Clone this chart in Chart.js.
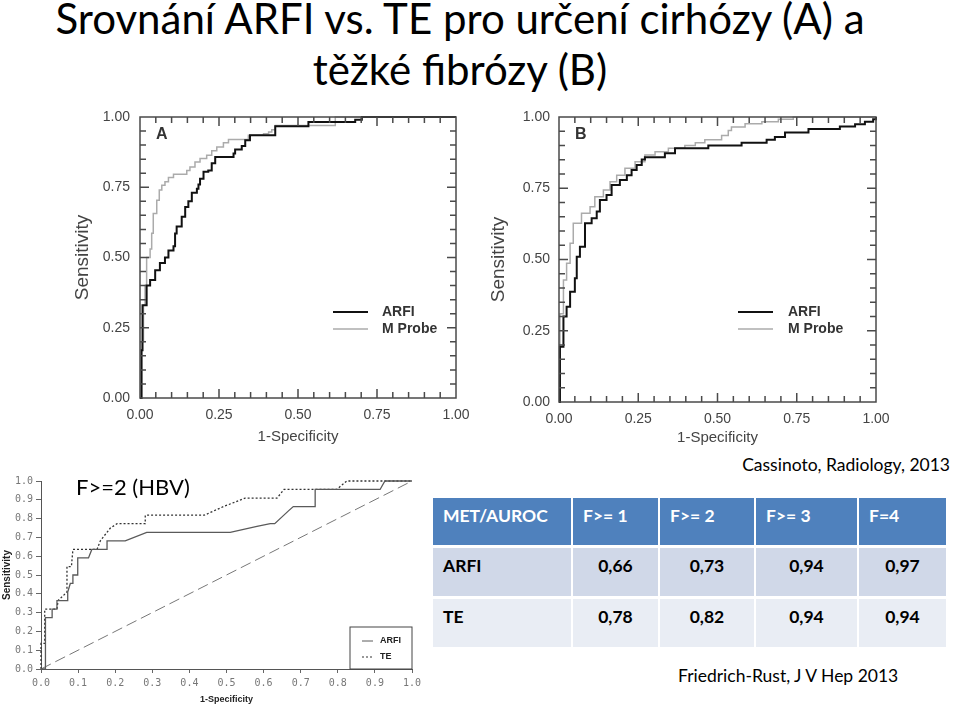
<!DOCTYPE html>
<html>
<head>
<meta charset="utf-8">
<script src="https://cdn.jsdelivr.net/npm/chart.js@4.4.1/dist/chart.umd.min.js"></script>
<style>
  body { margin: 0; background: #fff; width: 959px; height: 708px; position: relative; overflow: hidden; font-family: Lato, "Open Sans", sans-serif; }
  .box { position: absolute; }
  .title { position: absolute; left: 0; top: -7px; width: 920px; text-align: center; font-size: 42px; line-height: 51px; color: #000; white-space: nowrap; }
  .note { position: absolute; font-size: 17.5px; line-height: 20px; color: #000; white-space: nowrap; }
  .grid { position: absolute; left: 433px; top: 498px; display: grid;
          grid-template-columns: 138px 85px 94px 101px 87px; grid-template-rows: 47px 48px 48px;
          column-gap: 2px; row-gap: 3px; }
  .grid div { font-weight: bold; font-size: 17.5px; line-height: 22px; padding-top: 7px; box-sizing: border-box; }
  .grid .h { background: #4f81bd; color: #fff; padding-left: 10px; }
  .grid .r0 { background: #d0d8e8; }
  .grid .r1 { background: #e9edf4; }
  .grid .lab { padding-left: 10px; }
  .grid .num { text-align: center; }
</style>
</head>
<body>
<div class="title">Srovnání ARFI vs. TE pro určení cirhózy (A) a<br>těžké fibrózy (B)</div>

<div class="box" style="left:60px;top:100px;width:410px;height:350px"><canvas id="chartA"></canvas></div>
<div class="box" style="left:480px;top:100px;width:410px;height:350px"><canvas id="chartB"></canvas></div>
<div class="box" style="left:0px;top:470px;width:430px;height:238px"><canvas id="chartC"></canvas></div>

<div class="note" style="left:76px;top:476px;font-size:22px;line-height:22px">F&gt;=2 (HBV)</div>
<div class="note" style="right:9px;top:455px">Cassinoto, Radiology, 2013</div>
<div class="note" style="left:678px;top:666px">Friedrich-Rust, J V Hep 2013</div>
<div class="grid" id="auroc"></div>

<script>
// ---- data ----
const abTicks = [0, 0.25, 0.5, 0.75, 1];
const abTickLabels = ['0.00', '0.25', '0.50', '0.75', '1.00'];
const cTicks = [0, 0.1, 0.2, 0.3, 0.4, 0.5, 0.6, 0.7, 0.8, 0.9, 1];
const cTickLabels = ['0.0', '0.1', '0.2', '0.3', '0.4', '0.5', '0.6', '0.7', '0.8', '0.9', '1.0'];

// A: cirrhosis (Cassinoto)
const aArfiX = [0, 0.005, 0.008, 0.021, 0.032, 0.048, 0.063, 0.079, 0.090, 0.106, 0.111, 0.116, 0.132, 0.143, 0.153, 0.164, 0.180, 0.185, 0.190, 0.201, 0.216, 0.227, 0.238, 0.296, 0.301, 0.322, 0.333, 0.348, 0.428, 0.533, 0.681, 0.702, 1];
const aArfiY = [0, 0.17, 0.33, 0.40, 0.42, 0.455, 0.48, 0.50, 0.525, 0.54, 0.585, 0.61, 0.645, 0.68, 0.70, 0.73, 0.745, 0.76, 0.78, 0.805, 0.81, 0.835, 0.858, 0.87, 0.884, 0.897, 0.917, 0.935, 0.967, 0.982, 0.99, 1, 1];
const aProbeX = [0, 0.003, 0.011, 0.016, 0.021, 0.032, 0.037, 0.042, 0.053, 0.061, 0.069, 0.079, 0.090, 0.106, 0.148, 0.158, 0.174, 0.190, 0.211, 0.227, 0.243, 0.264, 0.280, 0.343, 0.391, 0.407, 0.417, 0.428, 0.618, 1];
const aProbeY = [0, 0.20, 0.33, 0.40, 0.50, 0.53, 0.586, 0.657, 0.704, 0.74, 0.757, 0.77, 0.785, 0.796, 0.81, 0.822, 0.84, 0.852, 0.864, 0.88, 0.893, 0.908, 0.92, 0.935, 0.94, 0.947, 0.955, 0.97, 1, 1];

// B: severe fibrosis (Cassinoto)
const bArfiX = [0, 0.003, 0.014, 0.024, 0.035, 0.050, 0.056, 0.066, 0.082, 0.103, 0.119, 0.129, 0.150, 0.166, 0.192, 0.214, 0.229, 0.245, 0.261, 0.271, 0.334, 0.366, 0.471, 0.576, 0.655, 0.681, 0.713, 0.787, 0.886, 0.934, 0.965, 0.991, 1];
const bArfiY = [0, 0.194, 0.30, 0.334, 0.387, 0.434, 0.51, 0.545, 0.627, 0.645, 0.668, 0.709, 0.726, 0.761, 0.779, 0.796, 0.814, 0.832, 0.851, 0.859, 0.873, 0.89, 0.90, 0.91, 0.92, 0.93, 0.946, 0.958, 0.967, 0.975, 0.983, 0.992, 1];
const bProbeX = [0, 0.003, 0.014, 0.024, 0.035, 0.045, 0.071, 0.098, 0.113, 0.140, 0.161, 0.182, 0.208, 0.240, 0.271, 0.303, 0.345, 0.397, 0.430, 0.460, 0.513, 0.534, 0.544, 0.587, 0.640, 0.692, 0.739, 1];
const bProbeY = [0, 0.31, 0.428, 0.487, 0.557, 0.627, 0.662, 0.685, 0.72, 0.744, 0.773, 0.796, 0.82, 0.843, 0.867, 0.878, 0.89, 0.90, 0.91, 0.92, 0.935, 0.953, 0.965, 0.976, 0.983, 0.992, 1, 1];

// C: F>=2 HBV (Friedrich-Rust)
const cArfiX = [0, 0.012, 0.012, 0.030, 0.030, 0.043, 0.043, 0.072, 0.072, 0.079, 0.086, 0.086, 0.099, 0.099, 0.128, 0.137, 0.178, 0.178, 0.227, 0.285, 0.510, 0.582, 0.618, 0.630, 0.667, 0.680, 0.739, 0.739, 0.914, 0.927, 1];
const cArfiY = [0, 0, 0.273, 0.273, 0.318, 0.318, 0.364, 0.364, 0.409, 0.455, 0.455, 0.5, 0.5, 0.591, 0.591, 0.636, 0.636, 0.682, 0.682, 0.727, 0.727, 0.759, 0.773, 0.773, 0.841, 0.864, 0.864, 0.955, 0.955, 1, 1];
const cTeX = [0, 0, 0.010, 0.010, 0.043, 0.046, 0.070, 0.070, 0.082, 0.086, 0.151, 0.160, 0.187, 0.205, 0.281, 0.281, 0.440, 0.492, 0.550, 0.636, 0.655, 0.797, 0.824, 1];
const cTeY = [0, 0.136, 0.136, 0.318, 0.318, 0.364, 0.409, 0.545, 0.545, 0.636, 0.636, 0.682, 0.75, 0.773, 0.773, 0.818, 0.818, 0.864, 0.909, 0.909, 0.955, 0.955, 1, 1];
const cRefX = [0, 1];
const cRefY = [0, 1];

const tableHead = ['MET/AUROC', 'F>= 1', 'F>= 2', 'F>= 3', 'F=4'];
const tableRows = [
    ['ARFI', '0,66', '0,73', '0,94', '0,97'],
    ['TE', '0,78', '0,82', '0,94', '0,94']
];

// ---- helpers ----
const pts = (xs, ys) => xs.map((x, i) => ({ x: x, y: ys[i] }));

Chart.defaults.font.family = '"Liberation Sans", Arial, sans-serif';
Chart.defaults.animation = false;

// frame + inward ticks + letter + legend for the A/B panels
const rocFrame = {
    id: 'rocFrame',
    afterDraw(chart, args, opts) {
        const ctx = chart.ctx, a = chart.chartArea;
        const sx = chart.scales.x, sy = chart.scales.y;
        ctx.save();
        ctx.strokeStyle = '#4a4a4a';
        ctx.lineWidth = 1.5;
        ctx.strokeRect(a.left, a.top, a.right - a.left, a.bottom - a.top);
        ctx.beginPath();
        for (let i = 1; i < 20; i++) {
            const len = i % 5 === 0 ? 9 : 6;
            const px = sx.getPixelForValue(i / 20), py = sy.getPixelForValue(i / 20);
            ctx.moveTo(px, a.bottom); ctx.lineTo(px, a.bottom - len);
            ctx.moveTo(px, a.top); ctx.lineTo(px, a.top + len);
            ctx.moveTo(a.left, py); ctx.lineTo(a.left + len, py);
            ctx.moveTo(a.right, py); ctx.lineTo(a.right - len, py);
        }
        ctx.stroke();

        ctx.fillStyle = '#333';
        ctx.font = 'bold 16px "Liberation Sans", Arial, sans-serif';
        ctx.textBaseline = 'alphabetic';
        ctx.fillText(opts.letter, a.left + 16, a.top + 22);

        ctx.font = 'bold 14px "Liberation Sans", Arial, sans-serif';
        ctx.textBaseline = 'middle';
        chart.data.datasets.forEach((ds, i) => {
            const y = a.top + opts.legendTop + i * 17;
            ctx.strokeStyle = ds.borderColor;
            ctx.lineWidth = ds.borderWidth;
            ctx.beginPath();
            ctx.moveTo(a.right + opts.legendLine, y);
            ctx.lineTo(a.right + opts.legendLine + 35, y);
            ctx.stroke();
            ctx.fillStyle = '#333';
            ctx.fillText(ds.label, a.right + opts.legendText, y);
        });
        ctx.restore();
    }
};

// boxed legend for the HBV panel
const boxLegend = {
    id: 'boxLegend',
    afterDraw(chart) {
        const ctx = chart.ctx, a = chart.chartArea;
        ctx.save();
        ctx.strokeStyle = '#444';
        ctx.lineWidth = 1;
        ctx.strokeRect(a.right - 62, a.bottom - 42, 62, 42);
        ctx.font = 'bold 9px "Liberation Sans", Arial, sans-serif';
        ctx.textBaseline = 'middle';
        chart.data.datasets.slice(0, 2).forEach((ds, i) => {
            const y = a.bottom - 28 + i * 16;
            ctx.strokeStyle = ds.borderColor;
            ctx.lineWidth = 1;
            ctx.setLineDash(ds.borderDash || []);
            ctx.beginPath();
            ctx.moveTo(a.right - 50, y);
            ctx.lineTo(a.right - 39, y);
            ctx.stroke();
            ctx.fillStyle = '#222';
            ctx.fillText(ds.label, a.right - 32, y);
        });
        ctx.restore();
    }
};

function fixedAxis(size, horizontal) {
    return function (scale) {
        if (horizontal) scale.height = size; else scale.width = size;
        scale.paddingLeft = scale.paddingRight = scale.paddingTop = scale.paddingBottom = 0;
    };
}

function rocChart(id, letter, arfi, probe, geo) {
    return new Chart(document.getElementById(id), {
        type: 'line',
        data: {
            datasets: [{
                label: 'ARFI',
                data: arfi,
                borderColor: '#111',
                borderWidth: 2,
                stepped: 'before',
                pointRadius: 0,
                clip: 4,
                order: 1
            }, {
                label: 'M Probe',
                data: probe,
                borderColor: '#ababab',
                borderWidth: 1.5,
                stepped: 'before',
                pointRadius: 0,
                clip: 4,
                order: 2
            }]
        },
        options: {
            responsive: true,
            maintainAspectRatio: false,
            layout: { padding: { top: 17, right: 14, left: 0, bottom: 0 } },
            plugins: {
                legend: { display: false },
                tooltip: { enabled: false },
                rocFrame: { letter: letter, legendTop: geo.legendTop, legendLine: geo.legendLine, legendText: geo.legendText }
            },
            scales: {
                x: {
                    type: 'linear', min: 0, max: 1,
                    afterBuildTicks: s => { s.ticks = abTicks.map(v => ({ value: v })); },
                    afterFit: fixedAxis(geo.xh, true),
                    grid: { display: false, drawTicks: false },
                    border: { display: false },
                    ticks: { padding: 9, color: '#444', font: { size: 14 }, maxRotation: 0,
                             callback: (v, i) => abTickLabels[i] },
                    title: { display: true, text: '1-Specificity', color: '#444', font: { size: 15 },
                             padding: { top: 0, bottom: geo.xtPad } }
                },
                y: {
                    type: 'linear', min: 0, max: 1,
                    afterBuildTicks: s => { s.ticks = abTicks.map(v => ({ value: v })); },
                    afterFit: fixedAxis(geo.yw, false),
                    grid: { display: false, drawTicks: false },
                    border: { display: false },
                    ticks: { padding: geo.ytickPad, color: '#444', font: { size: 14 },
                             callback: (v, i) => abTickLabels[i] },
                    title: { display: true, text: 'Sensitivity', color: '#444', font: { size: 19 },
                             padding: { top: geo.ytPad, bottom: 0 } }
                }
            }
        },
        plugins: [rocFrame]
    });
}

rocChart('chartA', 'A', pts(aArfiX, aArfiY), pts(aProbeX, aProbeY),
    { xh: 52, yw: 80, xtPad: 4, ytPad: 11, ytickPad: 10, legendTop: 195, legendLine: -123, legendText: -74 });
rocChart('chartB', 'B', pts(bArfiX, bArfiY), pts(bProbeX, bProbeY),
    { xh: 48, yw: 79, xtPad: 3, ytPad: 7, ytickPad: 9, legendTop: 195, legendLine: -138, legendText: -88 });

new Chart(document.getElementById('chartC'), {
    type: 'line',
    data: {
        datasets: [{
            label: 'ARFI',
            data: pts(cArfiX, cArfiY),
            borderColor: '#5a5a5a',
            borderWidth: 1.3,
            pointRadius: 0,
            clip: 3
        }, {
            label: 'TE',
            data: pts(cTeX, cTeY),
            borderColor: '#333',
            borderWidth: 1.3,
            borderDash: [2, 2],
            pointRadius: 0,
            clip: 3
        }, {
            label: 'reference',
            data: pts(cRefX, cRefY),
            borderColor: '#777',
            borderWidth: 1,
            borderDash: [11, 5],
            pointRadius: 0,
            clip: 3
        }]
    },
    options: {
        responsive: true,
        maintainAspectRatio: false,
        layout: { padding: { top: 11, right: 18, left: 0, bottom: 0 } },
        plugins: { legend: { display: false }, tooltip: { enabled: false } },
        scales: {
            x: {
                type: 'linear', min: 0, max: 1,
                afterBuildTicks: s => { s.ticks = cTicks.map(v => ({ value: v })); },
                afterFit: fixedAxis(39, true),
                grid: { drawOnChartArea: false, tickLength: 4, color: '#666' },
                border: { color: '#555', width: 1 },
                ticks: { padding: 4, color: '#777', maxRotation: 0,
                         font: { family: '"DejaVu Sans Mono", monospace', size: 10 },
                         callback: (v, i) => cTickLabels[i] },
                title: { display: true, text: '1-Specificity', color: '#222',
                         font: { family: '"Liberation Sans Narrow", "Liberation Sans", sans-serif', size: 9, weight: 'bold' },
                         padding: { top: 0, bottom: 3 } }
            },
            y: {
                type: 'linear', min: 0, max: 1,
                afterBuildTicks: s => { s.ticks = cTicks.map(v => ({ value: v })); },
                afterFit: fixedAxis(41, false),
                grid: { drawOnChartArea: false, tickLength: 5, color: '#666' },
                border: { color: '#555', width: 1 },
                ticks: { padding: 3, color: '#777',
                         font: { family: '"DejaVu Sans Mono", monospace', size: 10 },
                         callback: (v, i) => cTickLabels[i] },
                title: { display: true, text: 'Sensitivity', color: '#222',
                         font: { size: 10, weight: 'bold' },
                         padding: { top: 1, bottom: 0 } }
            }
        }
    },
    plugins: [boxLegend]
});

// ---- AUROC table ----
const grid = document.getElementById('auroc');
tableHead.forEach(t => {
    const d = document.createElement('div');
    d.className = 'h';
    d.textContent = t;
    grid.appendChild(d);
});
tableRows.forEach((row, r) => {
    row.forEach((t, c) => {
        const d = document.createElement('div');
        d.className = 'r' + r + (c === 0 ? ' lab' : ' num');
        d.textContent = t;
        grid.appendChild(d);
    });
});
</script>
</body>
</html>
